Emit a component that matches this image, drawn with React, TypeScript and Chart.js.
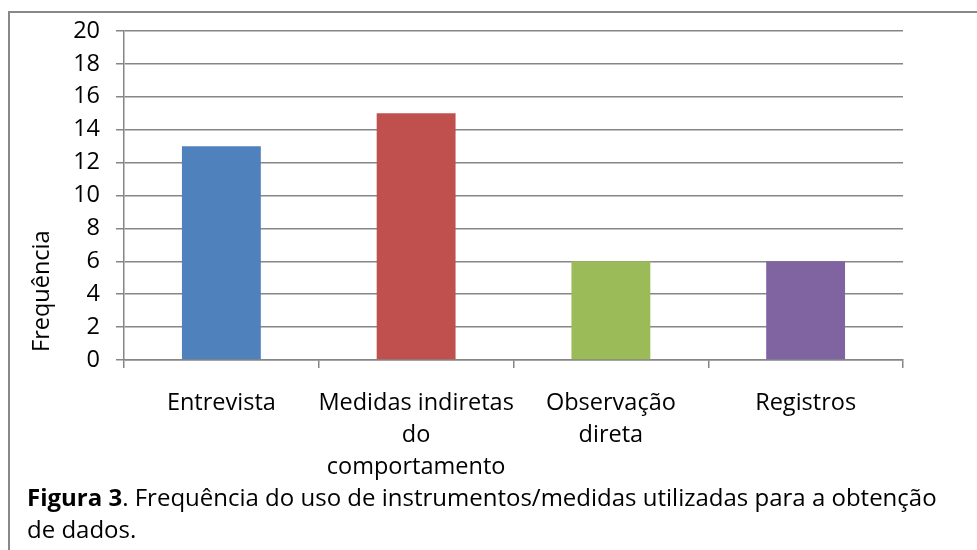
import React, { useEffect, useRef } from "react";
import { Chart, registerables } from "chart.js";

Chart.register(...registerables);

const categories: (string | string[])[] = [
  "Entrevista",
  ["Medidas indiretas", "do", "comportamento"],
  ["Observação", "direta"],
  "Registros",
];
const frequencies = [13, 15, 6, 6];
const barColors = ["#4F81BD", "#C0504D", "#9BBB59", "#8064A2"];
const yTitle = "Frequência";
const captionBold = "Figura 3";
const captionRest1 = ". Frequência do uso de instrumentos/medidas utilizadas para a obtenção";
const captionRest2 = "de dados.";

const FONT = "'Open Sans', Lato, sans-serif";
const GRID = "#868686";
const FS = 23.5;

const yTitlePlugin = {
  id: "yTitlePlugin",
  afterDraw(chart: any) {
    const ctx = chart.ctx;
    const area = chart.chartArea;
    ctx.save();
    ctx.font = `${FS}px ${FONT}`;
    ctx.fillStyle = "#000";
    ctx.translate(area.left - 82, area.bottom - 8);
    ctx.rotate(-Math.PI / 2);
    ctx.textAlign = "left";
    ctx.textBaseline = "middle";
    ctx.fillText(yTitle, 0, 0);
    ctx.restore();
  },
};

export default function App() {
  const ref = useRef<HTMLCanvasElement>(null);
  useEffect(() => {
    if (!ref.current) return;
    const chart = new Chart(ref.current, {
      type: "bar",
      data: {
        labels: categories,
        datasets: [
          {
            data: frequencies,
            backgroundColor: barColors,
            borderWidth: 0,
            barPercentage: 0.405,
            categoryPercentage: 1,
          },
        ],
      },
      plugins: [yTitlePlugin],
      options: {
        animation: false,
        responsive: false,
        maintainAspectRatio: false,
        layout: { padding: { top: 31, right: 74, bottom: 0, left: 0 } },
        plugins: { legend: { display: false }, tooltip: { enabled: false } },
        scales: {
          x: {
            afterFit(scale: any) {
              scale.height = 126;
            },
            grid: {
              drawOnChartArea: false,
              drawTicks: true,
              tickLength: 8,
              color: GRID,
              lineWidth: 1.5,
            },
            border: { color: GRID, width: 1.5 },
            ticks: {
              color: "#000",
              font: { family: FONT, size: FS, lineHeight: 32 / FS },
              padding: 19,
              maxRotation: 0,
              minRotation: 0,
              autoSkip: false,
            },
          },
          y: {
            min: 0,
            max: 20,
            afterFit(scale: any) {
              scale.width = 124;
            },
            grid: {
              drawTicks: true,
              tickLength: 8,
              color: GRID,
              lineWidth: 1.5,
            },
            border: { color: GRID, width: 1.5 },
            ticks: {
              stepSize: 2,
              color: "#000",
              font: { family: FONT, size: FS },
              padding: 16,
            },
          },
        },
      },
    });
    return () => chart.destroy();
  }, []);

  return (
    <div style={{ position: "fixed", inset: 0, overflow: "hidden", background: "#fff" }}>
      <div
        style={{
          position: "absolute",
          left: 8,
          top: 11,
          width: 1200,
          height: 800,
          borderLeft: "2px solid #888",
          borderTop: "2px solid #888",
        }}
      />
      <canvas
        ref={ref}
        width={977}
        height={486}
        style={{ position: "absolute", left: 0, top: 0, width: 977, height: 486 }}
      />
      <div
        style={{
          position: "absolute",
          left: 27,
          top: 481,
          fontFamily: FONT,
          fontSize: 24,
          lineHeight: "32px",
          color: "#000",
          whiteSpace: "nowrap",
          fontVariantLigatures: "none",
        }}
      >
        <b>{captionBold}</b>
        {captionRest1}
        <br />
        {captionRest2}
      </div>
    </div>
  );
}
